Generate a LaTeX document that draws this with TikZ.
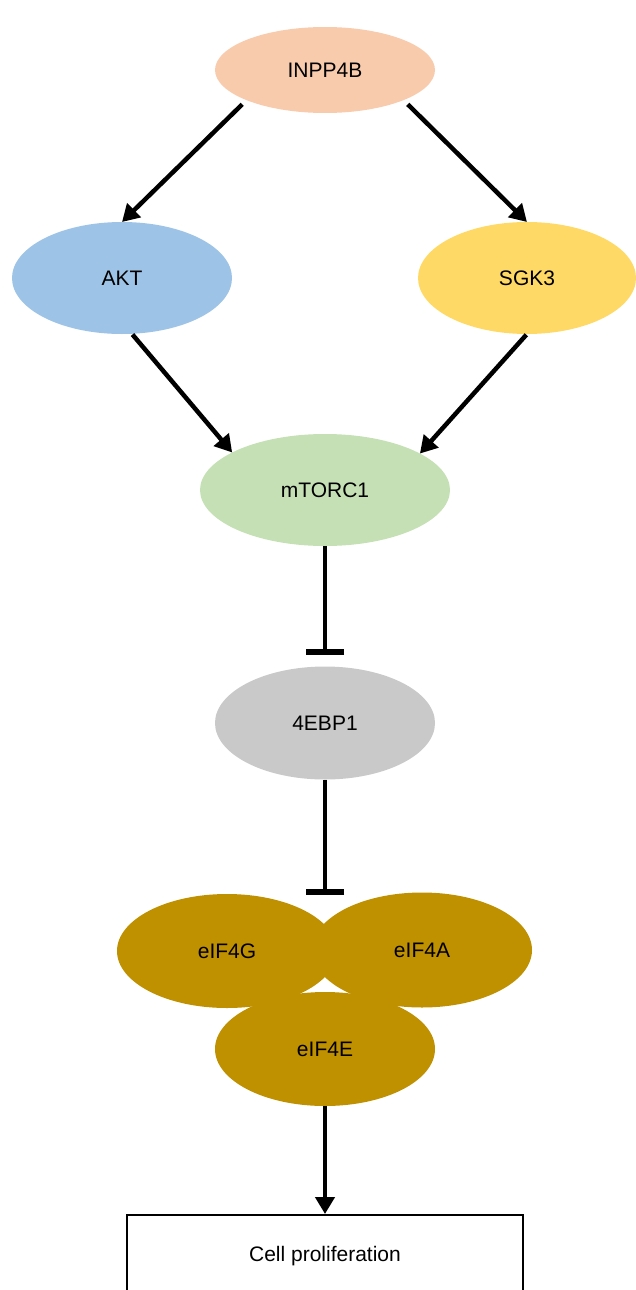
\documentclass[tikz,border=0pt]{standalone}
\usepackage{fontspec}
\setmainfont{Liberation Sans}
\usetikzlibrary{shapes.geometric,arrows.meta}
\definecolor{cpeach}{HTML}{F8CBAD}
\definecolor{cblue}{HTML}{9DC3E6}
\definecolor{cyellow}{HTML}{FFD966}
\definecolor{cgreen}{HTML}{C5E0B4}
\definecolor{cgray}{HTML}{C9C9C9}
\definecolor{cgold}{HTML}{BF9000}
\begin{document}
\begin{tikzpicture}[x=1pt,y=-1pt,
  ell/.style={ellipse,inner sep=0pt,outer sep=0pt,draw=none,
    font=\fontsize{21}{25}\selectfont},
  act/.style={line width=4.5pt,-{Triangle[length=17pt,width=19pt]}},
  inh/.style={line width=4.5pt,-{Bar[width=38pt,line width=6pt]}},
  outbox/.style={draw=black,line width=1.5pt,fill=white,inner sep=0pt,
    minimum width=396pt,minimum height=82pt,
    font=\fontsize{21}{25}\selectfont}]
\useasboundingbox (0,0) rectangle (636,1290);
\node[ell,fill=cpeach,minimum width=220pt,minimum height=86pt] (inpp) at (325,70) {INPP4B};
\node[ell,fill=cblue,minimum width=220pt,minimum height=112pt] (akt) at (122,278) {AKT};
\node[ell,fill=cyellow,minimum width=218pt,minimum height=112pt] (sgk) at (527,278) {SGK3};
\node[ell,fill=cgreen,minimum width=250pt,minimum height=112pt] (mtor) at (325,490) {mTORC1};
\node[ell,fill=cgray,minimum width=220pt,minimum height=113pt] (ebp) at (325,723) {4EBP1};
\node[ell,fill=cgold,minimum width=220pt,minimum height=114pt] (g) at (227,951) {eIF4G};
\node[ell,fill=cgold,minimum width=220pt,minimum height=115pt] (a) at (422,950) {eIF4A};
\node[ell,fill=cgold,minimum width=220pt,minimum height=114pt] (e) at (325,1049) {eIF4E};
\node[outbox,anchor=north] (cell) at (325,1214) {Cell proliferation};
\draw[act,shorten <=6pt] (inpp.201) -- (akt.north);
\draw[act,shorten <=6pt] (inpp.339) -- (sgk.north);
\draw[act,shorten <=1pt] (akt.280) -- (mtor.158);
\draw[act,shorten <=1pt] (sgk.south) -- (mtor.21);
\draw[inh,shorten >=12pt] (mtor.south) -- (ebp.north);
\draw[inh,shorten >=-2.5pt] (ebp.south) -- (a.north -| ebp.south);
\draw[act] (e.south) -- (cell.north);
\end{tikzpicture}
\end{document}
